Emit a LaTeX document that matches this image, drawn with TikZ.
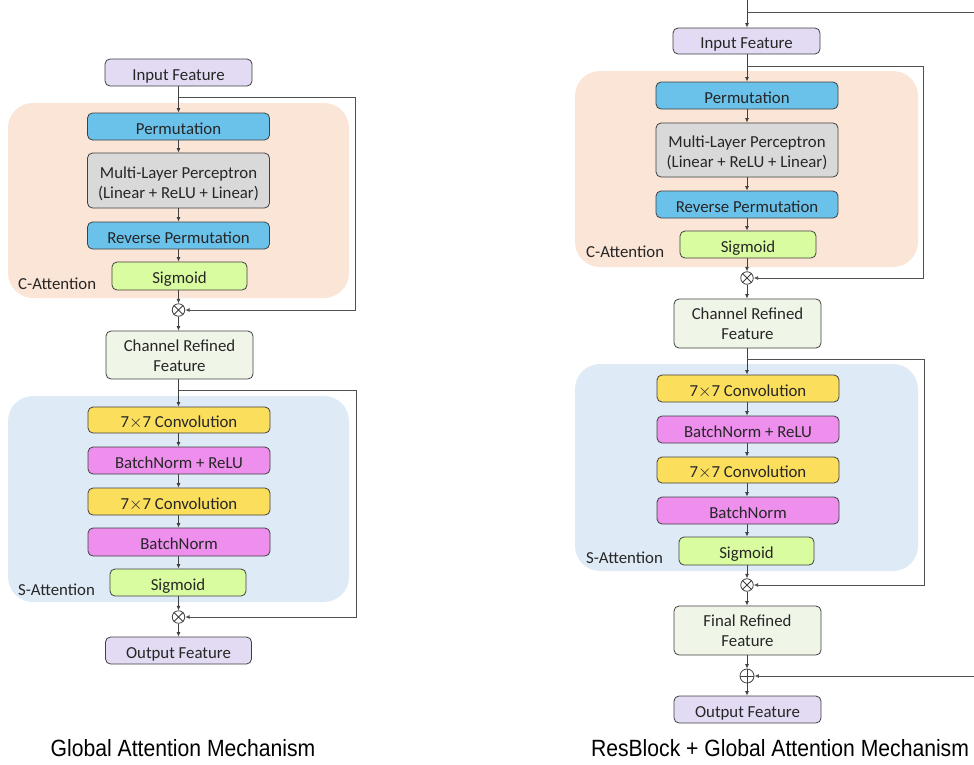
\documentclass[tikz,border=0pt]{standalone}
\usepackage{fontspec}
\setmainfont{Carlito}
\newfontfamily\capfont{Liberation Sans}
\usetikzlibrary{arrows.meta}
\definecolor{lav}{HTML}{E3DBF3}
\definecolor{peach}{HTML}{FBE5D6}
\definecolor{bluebox}{HTML}{6AC2EB}
\definecolor{graybox}{HTML}{D9D9D9}
\definecolor{sigg}{HTML}{DAFCA0}
\definecolor{refg}{HTML}{EFF6E8}
\definecolor{skyb}{HTML}{DEEBF7}
\definecolor{yel}{HTML}{FBDF5C}
\definecolor{pinkbox}{HTML}{EE8FEE}
\definecolor{edgecol}{HTML}{404040}
\definecolor{fbcol}{HTML}{505050}
\tikzset{
  blk/.style={draw=edgecol, line width=0.8pt, rounded corners=5pt, inner sep=0pt,
    align=center, font=\fontsize{16.8}{20}\selectfont, text=black!85,
    text height=19pt, text depth=4pt},
  twoline/.style={text height=#1, text depth=0pt},
  wbox/.style={blk, minimum width=182pt, minimum height=27pt},
  fbox/.style={blk, minimum width=147pt, minimum height=27pt},
  sbox/.style={blk, minimum width=135pt, minimum height=27pt},
  bgbox/.style={rounded corners=25pt},
  grp/.style={font=\fontsize{16.8}{20}\selectfont, text=black!85, anchor=west, inner sep=0pt},
  arr/.style={draw=edgecol, line width=0.8pt, -{Latex[length=4.5pt,width=4pt]}},
  fbl/.style={draw=fbcol, line width=1pt},
  fba/.style={draw=fbcol, line width=1pt, -{Latex[length=4.5pt,width=4pt]}},
  opc/.style={circle, draw=edgecol, line width=0.8pt, minimum size=12.5pt, inner sep=0pt},
  captxt/.style={font=\capfont\fontsize{23.5}{26}\selectfont, inner sep=0pt}
}
\newcommand{\mulsign}[1]{\draw[edgecol, line width=0.8pt] (#1.north west) -- (#1.south east) (#1.north east) -- (#1.south west);}
\newcommand{\addsign}[1]{\draw[edgecol, line width=0.8pt] (#1.north) -- (#1.south) (#1.east) -- (#1.west);}
\begin{document}
\begin{tikzpicture}[x=1pt, y=-1pt]
\useasboundingbox (0,0) rectangle (974,764);
% ---------------- backgrounds
\fill[peach, bgbox] (8,103) rectangle (349,298);
\fill[skyb, bgbox] (8,396) rectangle (349,602);
\fill[peach, bgbox] (575,71) rectangle (918,267);
\fill[skyb, bgbox] (575,364) rectangle (918,571);
\node[grp] (lc1) at (18,284) {C-Attention};
\node[grp] (ls1) at (18,590) {S-Attention};
\node[grp] (lc2) at (586,252) {C-Attention};
\node[grp] (ls2) at (586,558) {S-Attention};
% ---------------- left diagram
\node[fbox, fill=lav] (in1) at (178.5,72.5) {Input Feature};
\node[wbox, twoline=35pt, fill=graybox, minimum height=55pt] (mlp1) at (178.5,180.5) {Multi-Layer Perceptron\\(Linear + ReLU + Linear)};
\node[wbox, fill=bluebox] (perm1) at (178.5,126.5) {Permutation};
\node[wbox, fill=bluebox] (rperm1) at (178.5,235.5) {Reverse Permutation};
\node[sbox, fill=sigg, minimum height=28pt] (sig1) at (179.5,276) {Sigmoid};
\node[opc] (m1) at (178.5,310) {};
\mulsign{m1}
\node[fbox, twoline=32pt, fill=refg, minimum height=48pt] (crf1) at (179.5,355) {Channel Refined\\Feature};
\node[wbox, fill=yel, minimum height=26pt] (cva1) at (179,420) {7$\times$7 Convolution};
\node[wbox, fill=pinkbox] (bnr1) at (179,460.5) {BatchNorm + ReLU};
\node[wbox, fill=yel] (cvb1) at (179,501.5) {7$\times$7 Convolution};
\node[wbox, fill=pinkbox, minimum height=28pt] (bn1) at (179,542) {BatchNorm};
\node[sbox, fill=sigg, minimum width=136pt] (sgb1) at (178,582.5) {Sigmoid};
\node[opc] (m1b) at (178.5,617) {};
\mulsign{m1b}
\node[fbox, fill=lav, minimum width=146pt] (out1) at (178.5,650.5) {Output Feature};
\coordinate (b1) at (178.5,97);
\coordinate (b1r) at (355,97);
\coordinate (b1d) at (355,310);
\coordinate (b2) at (178.5,390);
\coordinate (b2r) at (356,390);
\coordinate (b2d) at (356,617);
\draw[arr] (in1) -- (perm1);
\draw[arr] (perm1) -- (mlp1);
\draw[arr] (mlp1) -- (rperm1);
\draw[arr] (rperm1.south) -- (rperm1.south |- sig1.north);
\draw[arr] (sig1.south -| m1) -- (m1);
\draw[arr] (m1) -- (m1 |- crf1.north);
\draw[arr] (crf1.south -| m1) -- (m1 |- cva1.north);
\draw[arr] (cva1.south -| m1) -- (m1 |- bnr1.north);
\draw[arr] (bnr1.south -| m1) -- (m1 |- cvb1.north);
\draw[arr] (cvb1.south -| m1) -- (m1 |- bn1.north);
\draw[arr] (bn1.south -| m1) -- (m1 |- sgb1.north);
\draw[arr] (sgb1.south -| m1b) -- (m1b);
\draw[arr] (m1b) -- (m1b |- out1.north);
\draw[fba] (b1) -- (b1r) -- (b1d) -- (m1);
\draw[fba] (b2) -- (b2r) -- (b2d) -- (m1b);
% ---------------- right diagram
\coordinate (top2) at (747,0);
\coordinate (rb0) at (747,12);
\coordinate (rb0r) at (974,12);
\node[fbox, fill=lav, minimum height=26pt] (in2) at (746.5,41) {Input Feature};
\node[wbox, fill=bluebox] (perm2) at (747,95.5) {Permutation};
\node[wbox, twoline=35pt, fill=graybox, minimum height=54pt] (mlp2) at (747,150) {Multi-Layer Perceptron\\(Linear + ReLU + Linear)};
\node[wbox, fill=bluebox] (rperm2) at (747,204.5) {Reverse Permutation};
\node[sbox, fill=sigg, minimum width=136pt] (sig2) at (748,244.5) {Sigmoid};
\node[opc] (m2) at (747,278) {};
\mulsign{m2}
\node[fbox, twoline=32pt, fill=refg, minimum height=49pt] (crf2) at (747.5,323.5) {Channel Refined\\Feature};
\node[wbox, fill=yel] (cva2) at (748,388.5) {7$\times$7 Convolution};
\node[wbox, fill=pinkbox] (bnr2) at (748,429.5) {BatchNorm + ReLU};
\node[wbox, fill=yel, minimum height=26pt] (cvb2) at (748,470) {7$\times$7 Convolution};
\node[wbox, fill=pinkbox] (bn2) at (748,510.5) {BatchNorm};
\node[sbox, fill=sigg, minimum height=28pt] (sgb2) at (746.5,551) {Sigmoid};
\node[opc] (m2b) at (747,585) {};
\mulsign{m2b}
\node[fbox, twoline=32pt, fill=refg, minimum height=49pt] (frf2) at (747.5,630.5) {Final Refined\\Feature};
\node[opc, minimum size=14pt] (p2) at (747,676) {};
\addsign{p2}
\node[fbox, fill=lav] (out2) at (747.5,709.5) {Output Feature};
\coordinate (rb0in) at (974,676);
\coordinate (rb1) at (747,66);
\coordinate (rb1r) at (923,66);
\coordinate (rb1d) at (923,278);
\coordinate (rb2) at (747,359);
\coordinate (rb2r) at (924,359);
\coordinate (rb2d) at (924,585);
\draw[arr] (top2) -- (top2 |- in2.north);
\draw[fbl] (rb0) -- (rb0r);
\draw[arr] (in2.south -| m2) -- (m2 |- perm2.north);
\draw[arr] (perm2.south -| m2) -- (m2 |- mlp2.north);
\draw[arr] (mlp2.south -| m2) -- (m2 |- rperm2.north);
\draw[arr] (rperm2.south -| m2) -- (m2 |- sig2.north);
\draw[arr] (sig2.south -| m2) -- (m2);
\draw[arr] (m2) -- (m2 |- crf2.north);
\draw[arr] (crf2.south -| m2) -- (m2 |- cva2.north);
\draw[arr] (cva2.south -| m2) -- (m2 |- bnr2.north);
\draw[arr] (bnr2.south -| m2) -- (m2 |- cvb2.north);
\draw[arr] (cvb2.south -| m2) -- (m2 |- bn2.north);
\draw[arr] (bn2.south -| m2) -- (m2 |- sgb2.north);
\draw[arr] (sgb2.south -| m2b) -- (m2b);
\draw[arr] (m2b) -- (m2b |- frf2.north);
\draw[arr] (frf2.south -| p2) -- (p2);
\draw[arr] (p2) -- (p2 |- out2.north);
\draw[fba] (rb1) -- (rb1r) -- (rb1d) -- (m2);
\draw[fba] (rb2) -- (rb2r) -- (rb2d) -- (m2b);
\draw[fba] (rb0in) -- (p2);
% ---------------- captions
\node[captxt] (cap1) at (183,748) {\scalebox{0.9}[1]{Global Attention Mechanism}};
\node[captxt] (cap2) at (780,748) {\scalebox{0.9}[1]{ResBlock + Global Attention Mechanism}};
\end{tikzpicture}
\end{document}
